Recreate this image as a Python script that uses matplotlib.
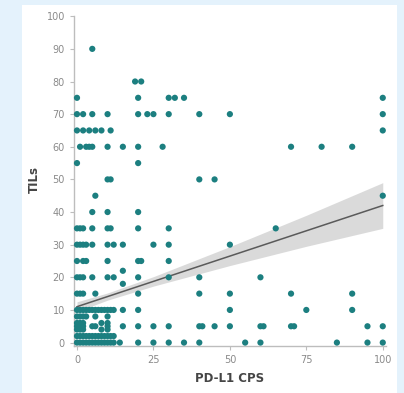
import numpy as np
import matplotlib
matplotlib.use("Agg")
import matplotlib.pyplot as plt
from matplotlib.patches import Rectangle

# ================= DATA =================

# points grouped by TILs row: {TILs value: [PD-L1 CPS values]}
rows = {
    90: [5],
    80: [19, 21],
    75: [0, 20, 30, 32, 35, 100],
    70: [0, 2, 5, 10, 20, 23, 25, 30, 40, 50, 100],
    65: [0, 2, 4, 6, 8, 11, 100],
    60: [1, 3, 4, 5, 10, 15, 20, 28, 70, 80, 90],
    55: [0, 20],
    50: [10, 11, 40, 45],
    45: [6, 100],
    40: [5, 10, 20],
    35: [0, 1, 2, 5, 10, 11, 20, 30, 65],
    30: [0, 1, 2, 3, 5, 10, 12, 15, 25, 30, 50],
    25: [0, 2, 3, 10, 20, 21, 30],
    22: [15],
    20: [0, 1, 2, 5, 10, 12, 20, 30, 40, 60],
    18: [15],
    15: [0, 1, 2, 6, 20, 40, 50, 70, 90],
    10: [0, 1, 2, 3, 4, 5, 6, 7, 8, 9, 10, 11, 12, 15, 20, 50, 75, 90],
    8: [0, 1, 2, 3, 6, 10],
    6: [0, 1, 2, 8, 10],
    5: [0, 1, 2, 5, 6, 10, 15, 20, 25, 30, 40, 41, 45, 50, 60, 61, 70, 71, 95, 100],
    4: [0, 1, 2, 8, 10],
    2: [0, 1, 2, 3, 4, 5, 6, 7, 8, 9, 10, 11, 12],
    0: [0, 1, 2, 3, 4, 5, 6, 7, 8, 9, 10, 11, 12, 14, 20, 25, 30, 35, 40, 55,
        60, 85, 95, 100],
}

cps = []
tils = []
for t, xs in rows.items():
    for x in xs:
        cps.append(x)
        tils.append(t)

# fitted line and confidence band
fit_x = [0, 10, 25, 50, 75, 100]
fit_y = [11, 14.1, 18.75, 26.5, 34.25, 42]
band_lo = [9.5, 13, 17.3, 23.6, 29.5, 35]
band_hi = [12.5, 15.2, 20.2, 29.4, 39, 49]

ticks = [0, 25, 50, 75, 100]
yticks = [0, 10, 20, 30, 40, 50, 60, 70, 80, 90, 100]

# ================= PLOT =================

fig = plt.figure(figsize=(4.04, 3.93), dpi=100)
fig.patch.set_facecolor("#e4f2fc")
fig.add_artist(Rectangle((22 / 404, 0), 375 / 404, 1 - 5 / 393,
                         transform=fig.transFigure, facecolor="white",
                         edgecolor="none", zorder=0))

ax = fig.add_axes([0.183, 0.12, 0.772, 0.847])
ax.set_facecolor("none")

ax.fill_between(fit_x, band_lo, band_hi, color="#d4d4d4", alpha=0.85,
                linewidth=0, zorder=1)
ax.plot(fit_x, fit_y, color="#5a5a5a", linewidth=1.1, zorder=2)
ax.scatter(cps, tils, s=20, color="#1c7f80", edgecolors="none",
           zorder=3, clip_on=False)

ax.set_xlim(-1, 101)
ax.set_ylim(-1, 101)
ax.set_xticks(ticks)
ax.set_yticks(yticks)

for side in ["top", "right"]:
    ax.spines[side].set_visible(False)
for side in ["left", "bottom"]:
    ax.spines[side].set_color("#bdbdbd")
    ax.spines[side].set_linewidth(1.0)
ax.spines["left"].set_bounds(-1, 100)

ax.tick_params(axis="both", colors="#bdbdbd", labelcolor="#8a8a8a",
               labelsize=7, length=3, width=0.8)

ax.set_xlabel("PD-L1 CPS", fontsize=8.5, fontweight="bold", color="#454545",
              labelpad=5)
ax.set_ylabel("TILs", fontsize=8.5, fontweight="bold", color="#454545",
              labelpad=4)

fig.savefig("out.png", dpi=100, facecolor=fig.get_facecolor())
